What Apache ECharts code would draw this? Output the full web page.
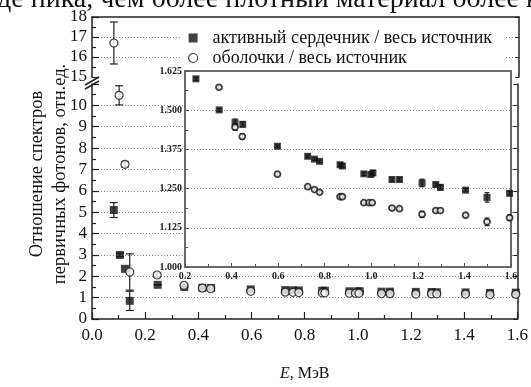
<!DOCTYPE html>
<html><head><meta charset="utf-8">
<script src="https://cdn.jsdelivr.net/npm/echarts@6/dist/echarts.min.js"></script>
<style>html,body{margin:0;padding:0;background:#fff}#c{width:531px;height:387px}</style>
</head><body><div id="c"></div>
<script>
// ---- data ----
const coreName = 'активный сердечник / весь источник';
const shellName = 'оболочки / весь источник';
const coreE = [0.082, 0.105, 0.124, 0.142, 0.247, 0.347, 0.415, 0.448, 0.597, 0.727, 0.756, 0.778, 0.866, 0.876, 0.968, 0.998, 1.007, 1.089, 1.121, 1.218, 1.277, 1.297, 1.405, 1.497, 1.594];
const coreV = [5.10, 3.00, 2.35, 0.85, 1.600, 1.501, 1.460, 1.455, 1.385, 1.353, 1.344, 1.337, 1.326, 1.322, 1.297, 1.295, 1.300, 1.279, 1.279, 1.268, 1.263, 1.254, 1.245, 1.222, 1.235];
const coreErr = [0.35, 0.08, 0, 0.45, 0.005, 0.004, 0.012, 0.008, 0.004, 0.004, 0.004, 0.004, 0.005, 0.005, 0.005, 0.005, 0.008, 0.005, 0.005, 0.012, 0.005, 0.008, 0.005, 0.015, 0.006];
const shellE = [0.082, 0.102, 0.124, 0.142, 0.245, 0.346, 0.415, 0.446, 0.597, 0.727, 0.756, 0.778, 0.866, 0.876, 0.968, 0.991, 1.004, 1.089, 1.121, 1.218, 1.277, 1.297, 1.405, 1.497, 1.594];
const shellV = [16.7, 10.47, 7.24, 2.2, 2.06, 1.573, 1.446, 1.416, 1.296, 1.256, 1.247, 1.238, 1.224, 1.224, 1.205, 1.205, 1.205, 1.188, 1.186, 1.168, 1.180, 1.180, 1.165, 1.144, 1.157];
const shellErr = [1.05, 0.45, 0.12, 0.85, 0.1, 0.004, 0.01, 0.008, 0.004, 0.004, 0.004, 0.004, 0.004, 0.004, 0.004, 0.004, 0.004, 0.004, 0.004, 0.01, 0.004, 0.006, 0.004, 0.012, 0.008];
const yTitle = 'Отношение спектров\nпервичных фотонов, отн.ед.';
const topText = 'де пика, чем более плотный материал более ю';

// ---- helpers ----
const FONT = '"Liberation Serif", "DejaVu Serif", serif';
const pts = (E, V, Er, f) => E.map((x, i) => [x, V[i], Er[i]]).filter(f);
const upperF = p => p[1] >= 15;
const lowerF = p => p[1] < 11;
const insetF = p => p[0] >= 0.2 && p[0] <= 1.6 && p[1] >= 1.0 && p[1] <= 1.625;

function errRender(capW, color, lw) {
  return function (params, api) {
    const x = api.value(0), y = api.value(1), e = api.value(2);
    if (!e) return null;
    const t = api.coord([x, y + e]), b = api.coord([x, y - e]);
    const st = { stroke: color, lineWidth: lw };
    return { type: 'group', children: [
      { type: 'line', shape: { x1: t[0], y1: t[1], x2: b[0], y2: b[1] }, style: st },
      { type: 'line', shape: { x1: t[0] - capW, y1: t[1], x2: t[0] + capW, y2: t[1] }, style: st },
      { type: 'line', shape: { x1: b[0] - capW, y1: b[1], x2: b[0] + capW, y2: b[1] }, style: st }
    ]};
  };
}

const gridLine = { show: true, lineStyle: { color: '#8a8a8a', type: [1, 2], width: 1 }, showMinLine: false, showMaxLine: false };
const outerLine = { show: true, lineStyle: { color: '#222', width: 1.5 } };
const insetLine = { show: true, lineStyle: { color: '#6a6a6a', width: 2 } };
const outerLabel = { color: '#111', fontFamily: FONT, fontSize: 17 };
const insetLabel = { color: '#222', fontFamily: FONT, fontSize: 10, fontWeight: 'bold' };
const coreStyle = { color: '#111' };
const shellStyle = { color: '#fff', borderColor: '#111', borderWidth: 1.2 };

const chart = echarts.init(document.getElementById('c'));
chart.setOption({
  animation: false,
  backgroundColor: '#fff',
  grid: [
    { left: 92, top: 17, width: 427, height: 60 },
    { left: 92, top: 84, width: 427, height: 250 },
    { left: 185, top: 71, width: 326, height: 196, show: true, backgroundColor: '#fff', borderColor: '#6a6a6a', borderWidth: 2, z: 5 }
  ],
  xAxis: [
    { gridIndex: 0, type: 'value', position: 'top', min: 0, max: 1.6, axisLine: outerLine, axisTick: { show: false }, axisLabel: { show: false }, splitLine: { show: false } },
    { gridIndex: 1, type: 'value', position: 'bottom', min: 0, max: 1.6, interval: 0.2,
      axisLine: outerLine, axisTick: { inside: true, length: 7, lineStyle: { color: '#222', width: 1.2 } },
      minorTick: { show: true, splitNumber: 2, length: 4, lineStyle: { color: '#222', width: 1.2 } },
      axisLabel: Object.assign({ margin: 8, formatter: v => v.toFixed(1) }, outerLabel), splitLine: { show: false },
      name: '{i|E}, МэВ', nameLocation: 'middle', nameGap: 47,
      nameTextStyle: { color: '#111', fontFamily: FONT, fontSize: 16, rich: { i: { fontStyle: 'italic', fontFamily: FONT, fontSize: 16, color: '#111' } } } },
    { gridIndex: 2, type: 'value', min: 0.2, max: 1.6, interval: 0.2, z: 6,
      axisLine: insetLine, axisTick: { inside: true, length: 4, lineStyle: { color: '#555' } },
      minorTick: { show: true, splitNumber: 2, length: 3, lineStyle: { color: '#555' } },
      axisLabel: Object.assign({ margin: 4, formatter: v => v.toFixed(1) }, insetLabel), splitLine: { show: false } }
  ],
  yAxis: [
    { gridIndex: 0, type: 'value', min: 15, max: 18, interval: 1,
      axisLine: outerLine, axisTick: { inside: true, length: 7, lineStyle: { color: '#222', width: 1.2 } },
      minorTick: { show: true, splitNumber: 2, length: 4, lineStyle: { color: '#222', width: 1.2 } },
      axisLabel: Object.assign({ margin: 5 }, outerLabel), splitLine: gridLine },
    { gridIndex: 0, type: 'value', position: 'right', min: 15, max: 18, interval: 1,
      axisLine: outerLine, axisTick: { inside: true, length: 4, lineStyle: { color: '#222' } }, axisLabel: { show: false }, splitLine: { show: false } },
    { gridIndex: 1, type: 'value', min: 0, max: 11, interval: 1,
      axisLine: outerLine, axisTick: { inside: true, length: 7, lineStyle: { color: '#222', width: 1.2 } },
      minorTick: { show: true, splitNumber: 2, length: 4, lineStyle: { color: '#222', width: 1.2 } },
      axisLabel: Object.assign({ margin: 5, formatter: v => (v > 10 ? '' : String(v)) }, outerLabel), splitLine: gridLine },
    { gridIndex: 1, type: 'value', position: 'right', min: 0, max: 11, interval: 1,
      axisLine: outerLine, axisTick: { inside: true, length: 4, lineStyle: { color: '#222' } }, axisLabel: { show: false }, splitLine: { show: false } },
    { gridIndex: 2, type: 'value', min: 1.0, max: 1.625, interval: 0.125, z: 6,
      axisLine: insetLine, axisTick: { inside: true, length: 4, lineStyle: { color: '#555' } },
      minorTick: { show: true, splitNumber: 2, length: 3, lineStyle: { color: '#555' } },
      axisLabel: Object.assign({ margin: 3, formatter: v => v.toFixed(3) }, insetLabel),
      splitLine: { show: true, lineStyle: { color: '#8a8a8a', type: [1, 2] }, showMinLine: false, showMaxLine: false } }
  ],
  legend: {
    orient: 'vertical', left: 180, top: 26, itemGap: 2, itemWidth: 9, itemHeight: 9,
    backgroundColor: '#fff', padding: [3, 12, 3, 8],
    textStyle: { color: '#111', fontFamily: FONT, fontSize: 18, padding: [0, 0, 0, 10] },
    data: [
      { name: coreName, icon: 'rect', itemStyle: { color: '#111', borderWidth: 0 } },
      { name: shellName, icon: 'circle', itemStyle: { color: '#fff', borderColor: '#111', borderWidth: 1.2 } }
    ]
  },
  graphic: [
    { type: 'text', x: -3, y: 14, style: { text: topText, font: '28px "Liberation Serif"', fill: '#111', textVerticalAlign: 'bottom' } },
    { type: 'text', x: 49, y: 174, rotation: Math.PI / 2, style: { text: yTitle, font: '18.5px "Liberation Serif"', fill: '#111', textAlign: 'center', textVerticalAlign: 'middle', lineHeight: 23 } },
    { type: 'line', shape: { x1: 85, y1: 85, x2: 99, y2: 77 }, style: { stroke: '#222', lineWidth: 1.5 }, z: 10 },
    { type: 'line', shape: { x1: 85, y1: 89, x2: 99, y2: 81 }, style: { stroke: '#222', lineWidth: 1.5 }, z: 10 }
  ],
  series: [
    // outer, lower part
    { type: 'scatter', name: coreName, xAxisIndex: 1, yAxisIndex: 2, symbol: 'rect', symbolSize: 8, itemStyle: coreStyle, data: pts(coreE, coreV, coreErr, lowerF), z: 3 },
    { type: 'scatter', name: shellName, xAxisIndex: 1, yAxisIndex: 2, symbol: 'circle', symbolSize: 8, itemStyle: shellStyle, data: pts(shellE, shellV, shellErr, lowerF), z: 4 },
    { type: 'custom', name: coreName, xAxisIndex: 1, yAxisIndex: 2, itemStyle: coreStyle, renderItem: errRender(4, '#222', 1.2), encode: { x: 0, y: 1 }, data: pts(coreE, coreV, coreErr, lowerF), z: 2 },
    { type: 'custom', name: shellName, xAxisIndex: 1, yAxisIndex: 2, itemStyle: coreStyle, renderItem: errRender(4, '#222', 1.2), encode: { x: 0, y: 1 }, data: pts(shellE, shellV, shellErr, lowerF), z: 2 },
    // outer, upper part
    { type: 'scatter', name: shellName, xAxisIndex: 0, yAxisIndex: 0, symbol: 'circle', symbolSize: 8, itemStyle: shellStyle, data: pts(shellE, shellV, shellErr, upperF), z: 4 },
    { type: 'custom', name: shellName, xAxisIndex: 0, yAxisIndex: 0, itemStyle: coreStyle, renderItem: errRender(4, '#222', 1.2), encode: { x: 0, y: 1 }, data: pts(shellE, shellV, shellErr, upperF), z: 2 },
    // inset
    { type: 'custom', name: coreName, xAxisIndex: 2, yAxisIndex: 4, clip: true, itemStyle: coreStyle, renderItem: errRender(2.5, '#222', 1.2), encode: { x: 0, y: 1 }, data: pts(coreE, coreV, coreErr, insetF), z: 7 },
    { type: 'custom', name: shellName, xAxisIndex: 2, yAxisIndex: 4, clip: true, itemStyle: coreStyle, renderItem: errRender(2.5, '#222', 1.2), encode: { x: 0, y: 1 }, data: pts(shellE, shellV, shellErr, insetF), z: 7 },
    { type: 'scatter', name: coreName, xAxisIndex: 2, yAxisIndex: 4, symbol: 'rect', symbolSize: 7, itemStyle: coreStyle, data: pts(coreE, coreV, coreErr, insetF), z: 8 },
    { type: 'scatter', name: shellName, xAxisIndex: 2, yAxisIndex: 4, symbol: 'circle', symbolSize: 6, itemStyle: { color: '#fff', borderColor: '#111', borderWidth: 1.8 }, data: pts(shellE, shellV, shellErr, insetF), z: 9 }
  ]
});
</script>
</body></html>
